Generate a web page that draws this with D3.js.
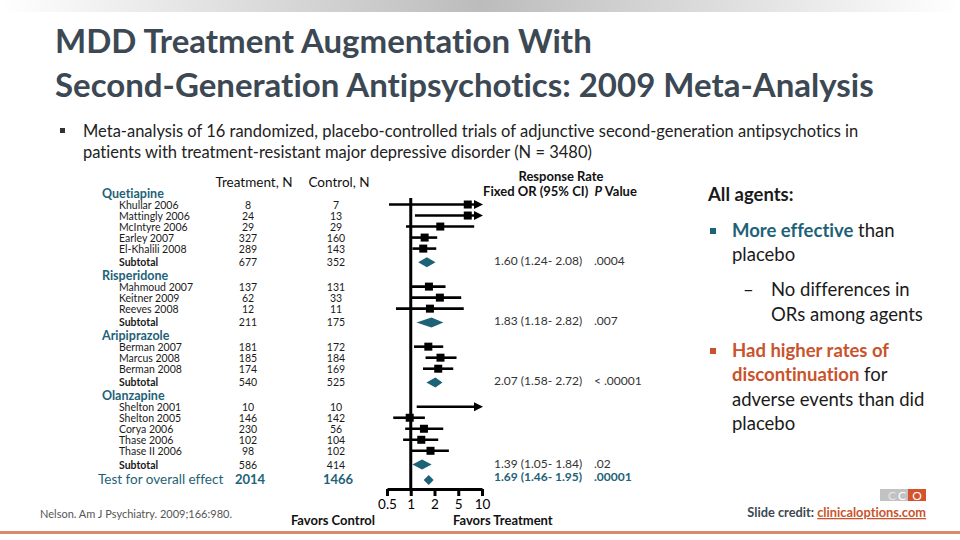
<!DOCTYPE html>
<html>
<head>
<meta charset="utf-8">
<script src="https://cdn.jsdelivr.net/npm/d3@7"></script>
<style>
    body { margin: 0; background: #ffffff; }
    svg { display: block; font-family: Lato, "Liberation Sans", sans-serif; font-variant-ligatures: none; }
</style>
</head>
<body>
<div id="chart-area"></div>
<script>

// Trials included in the meta-analysis (Nelson 2009)
const groupNames = ["Quetiapine", "Risperidone", "Aripiprazole", "Olanzapine"];
const studyNames = ["Khullar 2006", "Mattingly 2006", "McIntyre 2006", "Earley 2007", "El-Khalili 2008",
    "Mahmoud 2007", "Keitner 2009", "Reeves 2008",
    "Berman 2007", "Marcus 2008", "Berman 2008",
    "Shelton 2001", "Shelton 2005", "Corya 2006", "Thase 2006", "Thase II 2006"];
const studyGroup = [0, 0, 0, 0, 0, 1, 1, 1, 2, 2, 2, 3, 3, 3, 3, 3];
const treatmentN = [8, 24, 29, 327, 289, 137, 62, 12, 181, 185, 174, 10, 146, 230, 102, 98];
const controlN = [7, 13, 29, 160, 143, 131, 33, 11, 172, 184, 169, 10, 142, 56, 104, 102];

// odds ratios (values above 10 run off the axis)
const studyOR = [6.6, 6.6, 2.5, 1.5, 1.44, 1.7, 2.46, 1.75, 1.67, 2.52, 2.31, 12, 0.97, 1.47, 1.36, 1.78];
const studyLow = [0.53, 1.13, 0.87, 1.02, 1.05, 1.02, 1.02, 0.65, 1.10, 1.54, 1.43, 1.19, 0.60, 0.85, 0.80, 1.02];
const studyHigh = [30, 30, 7.96, 2.22, 2.14, 3.06, 5.45, 5.87, 2.80, 4.68, 4.12, 30, 1.51, 2.80, 2.31, 3.48];

// subtotals per agent
const subTreatmentN = [677, 211, 540, 586];
const subControlN = [352, 175, 525, 414];
const subOR = [1.60, 1.83, 2.07, 1.39];
const subLow = [1.24, 1.18, 1.58, 1.05];
const subHigh = [2.08, 2.82, 2.72, 1.84];
const subP = [".0004", ".007", "< .00001", ".02"];

// overall effect
const totalTreatmentN = 2014;
const totalControlN = 1466;
const totalOR = 1.69;
const totalLow = 1.46;
const totalHigh = 1.95;
const totalP = ".00001";

const tickValues = [0.5, 1, 2, 5, 10];

const teal = "#1d6277";
const orange = "#c9532c";
const slate = "#3c4853";


class ForestPlot {

    constructor(parentElement) {
        this.parentElement = parentElement;
        this.rows = [];
        this.initVis();
    }

    initVis() {
        let vis = this;

        vis.width = 960;
        vis.height = 540;

        vis.svg = d3.select("#" + vis.parentElement).append("svg")
            .attr("width", vis.width)
            .attr("height", vis.height);

        // Grey band across the top of the slide
        let grad = vis.svg.append("defs").append("linearGradient")
            .attr("id", "top-band")
            .attr("x1", "0%").attr("x2", "100%");
        grad.append("stop").attr("offset", "0%").attr("stop-color", "#ffffff");
        grad.append("stop").attr("offset", "50%").attr("stop-color", "#bcbcbc");
        grad.append("stop").attr("offset", "100%").attr("stop-color", "#ffffff");

        vis.svg.append("rect")
            .attr("x", 0).attr("y", 0)
            .attr("width", vis.width).attr("height", 12)
            .attr("fill", "url(#top-band)");

        // Odds ratio axis: log values, ticks spaced evenly as in the original figure
        vis.xLog = d3.scaleLinear()
            .domain(tickValues.map(Math.log10))
            .range(tickValues.map((d, i) => 387 + i * 23.75));
        vis.x = v => vis.xLog(Math.log10(Math.min(Math.max(v, 0.5), 10)));

        vis.wrangleData();
    }

    wrangleData() {
        let vis = this;

        // Lay the rows out in order: header, studies, subtotal
        let pos = 0;
        vis.rows = [];
        groupNames.forEach((g, gi) => {
            vis.rows.push({type: "group", label: g, pos: pos});
            pos += 1;
            studyNames.forEach((s, i) => {
                if (studyGroup[i] !== gi) return;
                vis.rows.push({
                    type: "study", label: s, pos: pos,
                    tn: treatmentN[i], cn: controlN[i],
                    or: studyOR[i], lo: studyLow[i], hi: studyHigh[i]
                });
                pos += 1;
            });
            pos += 0.25;
            vis.rows.push({
                type: "subtotal", label: "Subtotal", pos: pos,
                tn: subTreatmentN[gi], cn: subControlN[gi],
                or: subOR[gi], lo: subLow[gi], hi: subHigh[gi], p: subP[gi]
            });
            pos += 1.2;
        });
        pos += 0.2;
        vis.rows.push({
            type: "total", label: "Test for overall effect", pos: pos,
            tn: totalTreatmentN, cn: totalControlN,
            or: totalOR, lo: totalLow, hi: totalHigh, p: totalP
        });

        // Row scale: first header to the overall line
        vis.y = d3.scaleLinear()
            .domain([0, pos])
            .range([193.5, 480]);

        vis.updateVis();
    }

    updateVis() {
        let vis = this;
        let svg = vis.svg;

        // Title
        let title = svg.append("text")
            .attr("x", 55)
            .attr("font-size", 33)
            .attr("font-weight", "bold")
            .attr("fill", slate);
        title.append("tspan").attr("x", 55).attr("y", 53).text("MDD Treatment Augmentation With");
        title.append("tspan").attr("x", 55).attr("y", 97).text("Second-Generation Antipsychotics: 2009 Meta-Analysis");

        // Intro bullet
        svg.append("rect")
            .attr("x", 60).attr("y", 128).attr("width", 5).attr("height", 5)
            .attr("fill", "#333");
        let intro = svg.append("text")
            .attr("font-size", 16.5)
            .attr("fill", "#222");
        intro.append("tspan").attr("x", 83).attr("y", 137)
            .text("Meta-analysis of 16 randomized, placebo-controlled trials of adjunctive second-generation antipsychotics in");
        intro.append("tspan").attr("x", 83).attr("y", 158)
            .text("patients with treatment-resistant major depressive disorder (N = 3480)");

        // Column headers
        svg.append("text")
            .attr("x", 254).attr("y", 187)
            .attr("text-anchor", "middle")
            .attr("font-size", 13.5).attr("fill", "#111")
            .text("Treatment, N");
        svg.append("text")
            .attr("x", 339).attr("y", 187)
            .attr("text-anchor", "middle")
            .attr("font-size", 13.5).attr("fill", "#111")
            .text("Control, N");
        svg.append("text")
            .attr("x", 561).attr("y", 181)
            .attr("text-anchor", "middle")
            .attr("font-size", 13).attr("font-weight", "bold").attr("fill", "#111")
            .text("Response Rate");
        let orHead = svg.append("text")
            .attr("x", 560).attr("y", 196)
            .attr("text-anchor", "middle")
            .attr("font-size", 13).attr("font-weight", "bold").attr("fill", "#111");
        orHead.append("tspan").text("Fixed OR (95% CI)\u00a0\u00a0");
        orHead.append("tspan").attr("font-style", "italic").text("P");
        orHead.append("tspan").text(" Value");

        // Left table
        let table = svg.append("g").attr("class", "table");

        table.selectAll(".label")
            .data(vis.rows)
            .enter().append("text")
            .attr("class", "label")
            .attr("x", d => d.type === "group" ? 102 : d.type === "total" ? 98 : 119)
            .attr("y", d => vis.y(d.pos) + 4)
            .attr("font-size", d => d.type === "group" ? 12.5 : d.type === "total" ? 13.5 : 10.5)
            .attr("font-weight", d => d.type === "group" || d.type === "subtotal" ? "bold" : "normal")
            .attr("fill", d => d.type === "group" || d.type === "total" ? teal : "#1a1a1a")
            .text(d => d.label);

        let numbered = vis.rows.filter(d => d.type !== "group");

        [["tn", 248], ["cn", 336]].forEach(([key, cx]) => {
            table.selectAll(".n-" + key)
                .data(numbered)
                .enter().append("text")
                .attr("class", "n-" + key)
                .attr("x", d => d.type === "total" ? cx + 2 : cx)
                .attr("y", d => vis.y(d.pos) + 4)
                .attr("text-anchor", "middle")
                .attr("font-size", d => d.type === "total" ? 13 : 10.5)
                .attr("font-weight", d => d.type === "total" ? "bold" : "normal")
                .attr("fill", d => d.type === "total" ? teal : "#1a1a1a")
                .text(d => d[key]);
        });

        // Forest plot
        let plot = svg.append("g").attr("class", "forest");
        let axisY = 489;

        plot.append("line")
            .attr("x1", vis.x(1)).attr("x2", vis.x(1))
            .attr("y1", 198).attr("y2", axisY)
            .attr("stroke", "#000").attr("stroke-width", 3);

        let studies = vis.rows.filter(d => d.type === "study");

        plot.selectAll(".ci")
            .data(studies)
            .enter().append("line")
            .attr("class", "ci")
            .attr("x1", d => vis.x(d.lo))
            .attr("x2", d => d.hi > 10 ? vis.x(10) - 6 : vis.x(d.hi))
            .attr("y1", d => vis.y(d.pos))
            .attr("y2", d => vis.y(d.pos))
            .attr("stroke", "#000").attr("stroke-width", 2.6);

        // arrow heads for intervals running past 10
        plot.selectAll(".arrow")
            .data(studies.filter(d => d.hi > 10))
            .enter().append("path")
            .attr("class", "arrow")
            .attr("d", d => {
                let tip = vis.x(10) + 1, cy = vis.y(d.pos);
                return "M" + tip + "," + cy + "L" + (tip - 9) + "," + (cy - 4.5) + "L" + (tip - 9) + "," + (cy + 4.5) + "Z";
            })
            .attr("fill", "#000");

        plot.selectAll(".point")
            .data(studies.filter(d => d.or <= 10))
            .enter().append("rect")
            .attr("class", "point")
            .attr("x", d => vis.x(d.or) - 4)
            .attr("y", d => vis.y(d.pos) - 4)
            .attr("width", 8).attr("height", 8)
            .attr("fill", "#000");

        let pooled = vis.rows.filter(d => d.type === "subtotal" || d.type === "total");

        plot.selectAll(".diamond")
            .data(pooled)
            .enter().append("path")
            .attr("class", "diamond")
            .attr("d", d => {
                let cy = vis.y(d.pos), h = 5;
                return "M" + vis.x(d.lo) + "," + cy +
                    "L" + vis.x(d.or) + "," + (cy - h) +
                    "L" + vis.x(d.hi) + "," + cy +
                    "L" + vis.x(d.or) + "," + (cy + h) + "Z";
            })
            .attr("fill", teal);

        // pooled estimates as text
        plot.selectAll(".est")
            .data(pooled)
            .enter().append("text")
            .attr("class", "est")
            .attr("x", 494)
            .attr("y", d => vis.y(d.pos) + (d.type === "total" ? 1 : 3))
            .attr("font-size", 12)
            .attr("font-weight", d => d.type === "total" ? "bold" : "normal")
            .attr("fill", d => d.type === "total" ? teal : "#333")
            .text(d => d3.format(".2f")(d.or) + " (" + d3.format(".2f")(d.lo) + "- " + d3.format(".2f")(d.hi) + ")");

        plot.selectAll(".pval")
            .data(pooled)
            .enter().append("text")
            .attr("class", "pval")
            .attr("x", 594)
            .attr("y", d => vis.y(d.pos) + (d.type === "total" ? 1 : 3))
            .attr("font-size", 12)
            .attr("font-weight", d => d.type === "total" ? "bold" : "normal")
            .attr("fill", d => d.type === "total" ? teal : "#333")
            .text(d => d.p);

        // x axis
        let xAxis = d3.axisBottom(vis.xLog)
            .tickValues(tickValues.map(Math.log10))
            .tickFormat(d => d3.format("~g")(Math.pow(10, d)))
            .tickSizeInner(7)
            .tickSizeOuter(0)
            .tickPadding(3);

        let axisG = plot.append("g")
            .attr("transform", "translate(0," + axisY + ")")
            .call(xAxis);
        axisG.select(".domain").attr("stroke-width", 3).attr("stroke", "#000");
        axisG.selectAll(".tick line").attr("stroke-width", 3).attr("stroke", "#000");
        axisG.selectAll(".tick text")
            .attr("font-size", 13.5).attr("fill", "#000")
            .attr("font-family", "Lato, sans-serif");

        svg.append("text")
            .attr("x", 375).attr("y", 525)
            .attr("text-anchor", "end")
            .attr("font-size", 13).attr("font-weight", "bold").attr("fill", "#111")
            .text("Favors Control");
        svg.append("text")
            .attr("x", 453).attr("y", 525)
            .attr("font-size", 13).attr("font-weight", "bold").attr("fill", "#111")
            .text("Favors Treatment");

        // Right-hand notes
        let notes = svg.append("g").attr("font-size", 18.5).attr("fill", "#1a1a1a");
        notes.append("text").attr("x", 708).attr("y", 201)
            .attr("font-weight", "bold").text("All agents:");

        notes.append("rect").attr("x", 710).attr("y", 228).attr("width", 6).attr("height", 6).attr("fill", teal);
        let l1 = notes.append("text").attr("x", 732).attr("y", 237);
        l1.append("tspan").attr("font-weight", "bold").attr("fill", teal).text("More effective");
        l1.append("tspan").text(" than");
        notes.append("text").attr("x", 732).attr("y", 261).text("placebo");

        notes.append("text").attr("x", 743).attr("y", 296).text("\u2013");
        notes.append("text").attr("x", 771).attr("y", 296).text("No differences in");
        notes.append("text").attr("x", 771).attr("y", 321).text("ORs among agents");

        notes.append("rect").attr("x", 710).attr("y", 348).attr("width", 6).attr("height", 6).attr("fill", orange);
        notes.append("text").attr("x", 732).attr("y", 357)
            .attr("font-weight", "bold").attr("fill", orange).text("Had higher rates of");
        let l2 = notes.append("text").attr("x", 732).attr("y", 381);
        l2.append("tspan").attr("font-weight", "bold").attr("fill", orange).text("discontinuation");
        l2.append("tspan").text(" for");
        notes.append("text").attr("x", 732).attr("y", 406).text("adverse events than did");
        notes.append("text").attr("x", 732).attr("y", 430).text("placebo");

        // Footer
        svg.append("text")
            .attr("x", 40).attr("y", 518)
            .attr("font-size", 11).attr("fill", "#555")
            .text("Nelson. Am J Psychiatry. 2009;166:980.");

        let logo = svg.append("g");
        logo.append("rect").attr("x", 880).attr("y", 489).attr("width", 28).attr("height", 12).attr("fill", "#c2c2c2");
        logo.append("rect").attr("x", 908).attr("y", 489).attr("width", 18).attr("height", 12).attr("fill", "#d4532b");
        logo.append("text").attr("x", 888).attr("y", 499.5).attr("font-size", 12).attr("fill", "#e6e6e6").text("C");
        logo.append("text").attr("x", 898).attr("y", 499.5).attr("font-size", 12).attr("fill", "#ffffff").text("C");
        logo.append("text").attr("x", 917).attr("y", 499.5).attr("text-anchor", "middle")
            .attr("font-size", 12).attr("fill", "#ffffff").text("O");

        let credit = svg.append("text")
            .attr("x", 926).attr("y", 517)
            .attr("text-anchor", "end")
            .attr("font-size", 12.8).attr("font-weight", "bold");
        credit.append("tspan").attr("fill", "#3c4853").text("Slide credit: ");
        credit.append("tspan").attr("fill", orange)
            .attr("text-decoration", "underline").text("clinicaloptions.com");

        svg.append("rect")
            .attr("x", 0).attr("y", 531)
            .attr("width", vis.width).attr("height", 3)
            .attr("fill", "#d88a6a");
    }
}

let forest = new ForestPlot("chart-area");

</script>
</body>
</html>
